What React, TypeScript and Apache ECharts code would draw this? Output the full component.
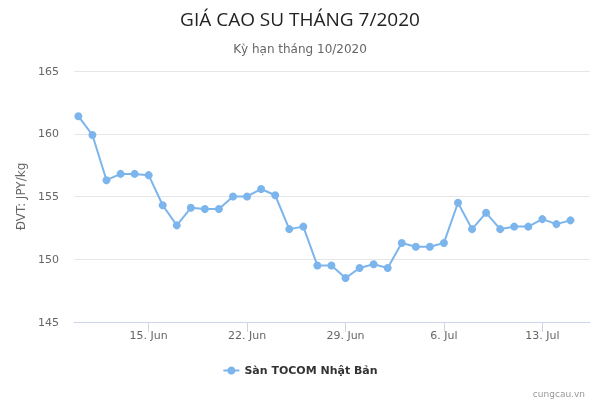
import React, { useEffect, useRef } from "react";
import * as echarts from "echarts";

const dates: string[] = [
  "2020-06-10", "2020-06-11", "2020-06-12", "2020-06-13", "2020-06-14", "2020-06-15",
  "2020-06-16", "2020-06-17", "2020-06-18", "2020-06-19", "2020-06-20", "2020-06-21",
  "2020-06-22", "2020-06-23", "2020-06-24", "2020-06-25", "2020-06-26", "2020-06-27",
  "2020-06-28", "2020-06-29", "2020-06-30", "2020-07-01", "2020-07-02", "2020-07-03",
  "2020-07-04", "2020-07-05", "2020-07-06", "2020-07-07", "2020-07-08", "2020-07-09",
  "2020-07-10", "2020-07-11", "2020-07-12", "2020-07-13", "2020-07-14", "2020-07-15",
];

const prices: number[] = [
  161.4, 159.9, 156.3, 156.8, 156.8, 156.7, 154.3, 152.7, 154.1, 154.0, 154.0, 155.0,
  155.0, 155.6, 155.1, 152.4, 152.6, 149.5, 149.5, 148.5, 149.3, 149.6, 149.3, 151.3,
  151.0, 151.0, 151.3, 154.5, 152.4, 153.7, 152.4, 152.6, 152.6, 153.2, 152.8, 153.1,
];

const tickDates: string[] = ["2020-06-15", "2020-06-22", "2020-06-29", "2020-07-06", "2020-07-13"];
const yTicks: number[] = [145, 150, 155, 160, 165];
const monthNames: string[] = ["Jan", "Feb", "Mar", "Apr", "May", "Jun", "Jul", "Aug", "Sep", "Oct", "Nov", "Dec"];

const seriesName = "Sàn TOCOM Nhật Bản";
const titleText = "GIÁ CAO SU THÁNG 7/2020";
const subtitleText = "Kỳ hạn tháng 10/2020";
const yAxisName = "ĐVT: JPY/kg";
const creditText = "cungcau.vn";

const DAY = 86400000;
const EPOCH = Date.UTC(2020, 5, 1);
const toDay = (s: string) => (Date.parse(s + "T00:00:00Z") - EPOCH) / DAY;
const fromDay = (d: number) => new Date(EPOCH + Math.round(d) * DAY);

export default function App() {
  const ref = useRef<HTMLDivElement>(null);
  useEffect(() => {
    if (!ref.current) return;
    const chart = echarts.init(ref.current, undefined, { renderer: "svg" });
    const font = "'DejaVu Sans', sans-serif";
    const tickDays = tickDates.map(toDay);
    chart.setOption({
      animation: false,
      textStyle: { fontFamily: font },
      title: [
        {
          text: titleText,
          left: "center",
          top: 4,
          textStyle: { fontFamily: "'Open Sans', sans-serif", fontSize: 19, fontWeight: "normal", color: "#222222" },
        },
        {
          text: subtitleText,
          left: "center",
          top: 38,
          textStyle: { fontFamily: font, fontSize: 12, fontWeight: "normal", color: "#666666" },
        },
        {
          text: creditText,
          right: 10,
          top: 384,
          textStyle: { fontFamily: font, fontSize: 9, fontWeight: "normal", color: "#999999" },
        },
      ],
      legend: {
        bottom: 19,
        left: "center",
        itemWidth: 16,
        itemHeight: 10,
        itemGap: 10,
        textStyle: { fontFamily: font, fontSize: 11, fontWeight: "bold", color: "#333333" },
        data: [{ name: seriesName }],
      },
      grid: { left: 74, right: 10, top: 71, bottom: 78, containLabel: false },
      xAxis: {
        type: "value",
        min: 8.69,
        max: 45.39,
        splitLine: { show: false },
        axisLine: { show: true, lineStyle: { color: "#ccd6eb", width: 1 } },
        axisTick: { show: true, length: 10, customValues: tickDays, lineStyle: { color: "#ccd6eb" } },
        axisLabel: {
          customValues: tickDays,
          color: "#666666",
          fontSize: 11,
          margin: 8,
          formatter: (v: number) => {
            const d = fromDay(v);
            return `${d.getUTCDate()}. ${monthNames[d.getUTCMonth()]}`;
          },
        },
      },
      yAxis: {
        type: "value",
        min: yTicks[0],
        max: yTicks[yTicks.length - 1],
        interval: 5,
        name: yAxisName,
        nameLocation: "middle",
        nameGap: 46,
        nameTextStyle: { color: "#666666", fontSize: 12, fontFamily: font },
        axisLine: { show: false },
        axisTick: { show: false },
        axisLabel: { color: "#666666", fontSize: 11, margin: 15 },
        splitLine: { lineStyle: { color: "#e6e6e6", width: 1 } },
      },
      series: [
        {
          name: seriesName,
          type: "line",
          data: dates.map((d, i) => [toDay(d), prices[i]]),
          symbol: "circle",
          symbolSize: 8,
          itemStyle: { color: "#7cb5ec" },
          lineStyle: { color: "#7cb5ec", width: 2 },
        },
      ],
    });
    return () => chart.dispose();
  }, []);
  return <div ref={ref} style={{ position: "fixed", left: 0, top: 0, width: 600, height: 400 }} />;
}
